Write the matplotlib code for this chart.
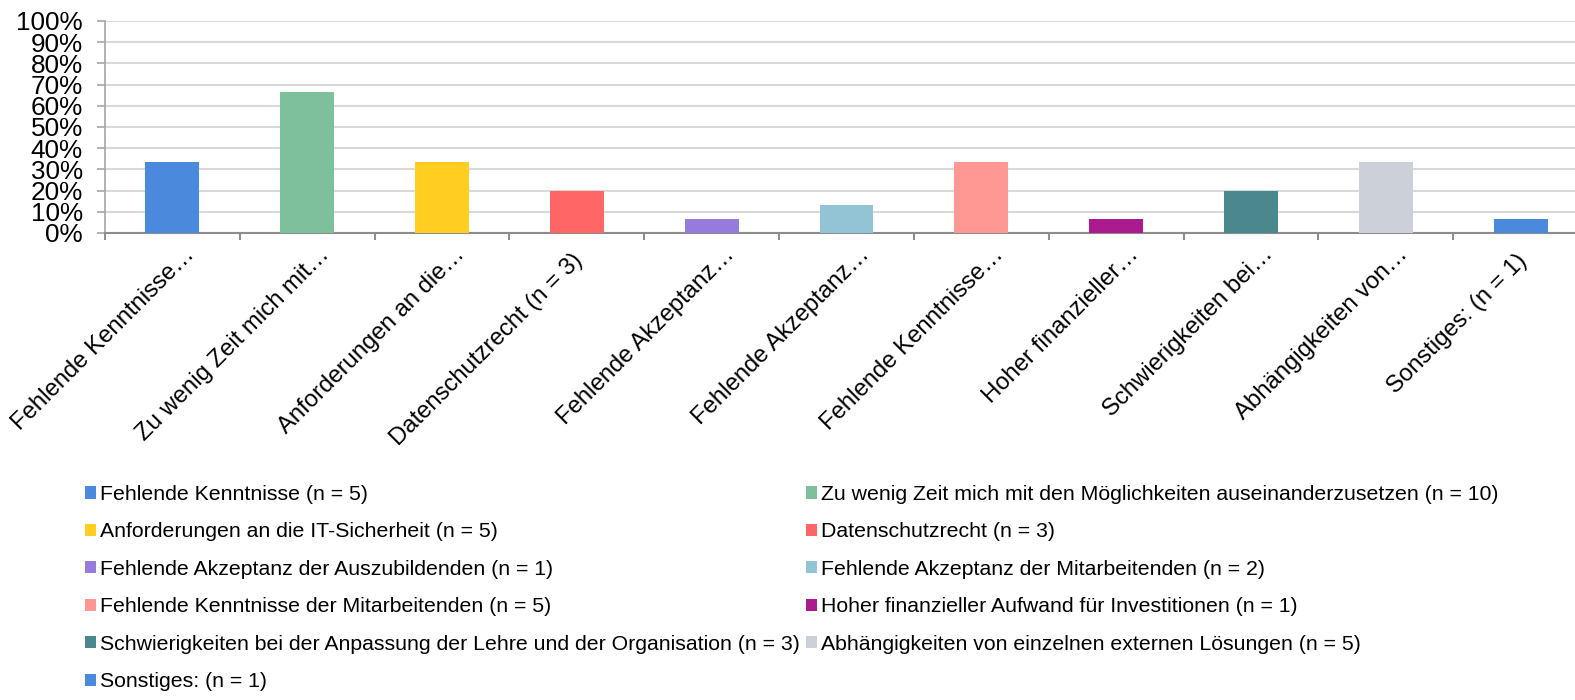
import matplotlib
matplotlib.use("Agg")
import math
import matplotlib.pyplot as plt
from matplotlib.patches import Patch
from matplotlib.ticker import FuncFormatter, FixedLocator
import matplotlib.transforms as mtransforms

plt.rcParams['font.family'] = ['Liberation Sans', 'DejaVu Sans']

tick_labels = [
    "Fehlende Kenntnisse…",
    "Zu wenig Zeit mich mit…",
    "Anforderungen an die…",
    "Datenschutzrecht (n = 3)",
    "Fehlende Akzeptanz…",
    "Fehlende Akzeptanz…",
    "Fehlende Kenntnisse…",
    "Hoher finanzieller…",
    "Schwierigkeiten bei…",
    "Abhängigkeiten von…",
    "Sonstiges: (n = 1)",
]
legend_labels = [
    "Fehlende Kenntnisse (n = 5)",
    "Zu wenig Zeit mich mit den Möglichkeiten auseinanderzusetzen (n = 10)",
    "Anforderungen an die IT-Sicherheit (n = 5)",
    "Datenschutzrecht (n = 3)",
    "Fehlende Akzeptanz der Auszubildenden (n = 1)",
    "Fehlende Akzeptanz der Mitarbeitenden (n = 2)",
    "Fehlende Kenntnisse der Mitarbeitenden (n = 5)",
    "Hoher finanzieller Aufwand für Investitionen (n = 1)",
    "Schwierigkeiten bei der Anpassung der Lehre und der Organisation (n = 3)",
    "Abhängigkeiten von einzelnen externen Lösungen (n = 5)",
    "Sonstiges: (n = 1)",
]
values = [33.3, 66.7, 33.3, 20.0, 6.7, 13.3, 33.3, 6.7, 20.0, 33.3, 6.7]
colors = ["#4A89DC", "#7DC09B", "#FFCE21", "#FF6666", "#967ADC", "#92C4D6",
          "#FF9892", "#AC1A8F", "#4A888E", "#CCD1D9", "#4A89DC"]

fig = plt.figure(figsize=(15.75, 7.0), dpi=100)
ax = fig.add_axes([105/1575, 1-233/700, 1483/1575, 212/700])

x = list(range(len(values)))
ax.bar(x, values, width=0.4, color=colors, zorder=3)

ax.set_xlim(-0.5, len(values) - 0.5)
ax.set_ylim(0, 100)
ax.yaxis.set_major_locator(FixedLocator(list(range(0, 101, 10))))
ax.yaxis.set_major_formatter(FuncFormatter(lambda v, p: f"{int(v)}%"))
ax.grid(axis='y', color='#D9D9D9', linewidth=1.5, zorder=0)
ax.set_axisbelow(True)

for s in ['top', 'right']:
    ax.spines[s].set_visible(False)
ax.spines['left'].set_color('#A6A6A6')
ax.spines['left'].set_linewidth(1.2)
ax.spines['bottom'].set_color('#8C8C8C')
ax.spines['bottom'].set_linewidth(1.5)

ax.tick_params(axis='y', length=5.5, color='#A6A6A6', width=1.2, pad=10.5,
               labelsize=18.8, labelcolor='black')
ax.set_xticks(x)
ax.set_xticks([i - 0.5 for i in range(len(values) + 1)], minor=True)
ax.tick_params(axis='x', which='major', length=0, pad=7)
ax.tick_params(axis='x', which='minor', length=5, color='#8C8C8C', width=1.5)
fs = 17.2
ax.set_xticklabels(tick_labels, rotation=45, ha='right', va='top',
                   rotation_mode='anchor', fontsize=fs)
shift = 0.85 * fs / 72 * math.cos(math.radians(45))
for lbl in ax.get_xticklabels():
    dx, dy = -5/100, -7/100
    if lbl.get_text().endswith("…"):
        dx += shift + 2/100
        dy += shift - 8/100
    off = mtransforms.ScaledTranslation(dx, dy, fig.dpi_scale_trans)
    lbl.set_transform(lbl.get_transform() + off)

handles = [Patch(facecolor=c, edgecolor='none') for c in colors]
order = [0, 2, 4, 6, 8, 10, 1, 3, 5, 7, 9]
fig.legend([handles[i] for i in order], [legend_labels[i] for i in order],
           ncol=2, loc='upper left', bbox_to_anchor=(85/1575, 1-485/700),
           frameon=False, fontsize=15.3, handlelength=0.5, handleheight=0.5,
           handletextpad=0.2, columnspacing=0.3, labelspacing=0.87,
           borderaxespad=0, borderpad=0)

fig.savefig("out.png", dpi=100)
